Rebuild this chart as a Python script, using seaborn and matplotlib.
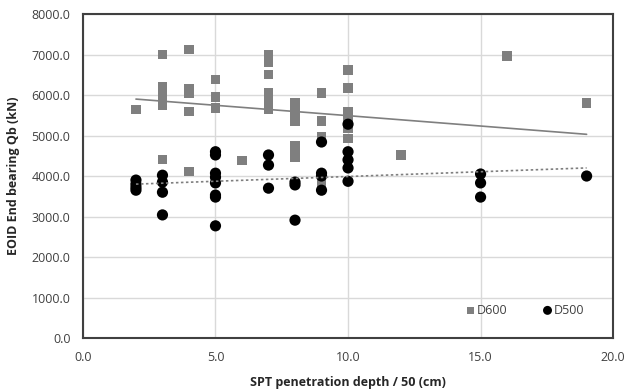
import numpy as np
import pandas as pd
import seaborn as sns
import matplotlib
matplotlib.use("Agg")
import matplotlib.pyplot as plt

# D600 data (grey squares)
d600_x = [2,
          3, 3, 3, 3, 3, 3,
          4, 4, 4, 4, 4,
          5, 5, 5,
          6,
          7, 7, 7, 7, 7, 7, 7, 7,
          8, 8, 8, 8, 8, 8, 8,
          9, 9, 9, 9,
          10, 10, 10, 10, 10, 10,
          12, 16, 19]
d600_y = [5650,
          7000, 6200, 6050, 5900, 5750, 4400,
          7120, 6150, 6050, 5600, 4120,
          6380, 5950, 5680,
          4380,
          7000, 6900, 6800, 6500, 6050, 5900, 5750, 5650,
          5800, 5650, 5500, 5350, 4750, 4600, 4450,
          6050, 5360, 4960, 3850,
          6620, 6170, 5580, 5380, 5180, 4930,
          4520, 6960, 5800]

# D500 data (black circles)
d500_x = [2, 2, 2, 2,
          3, 3, 3, 3,
          5, 5, 5, 5, 5, 5, 5, 5,
          7, 7, 7,
          8, 8, 8,
          9, 9, 9, 9,
          10, 10, 10, 10, 10,
          15, 15, 15,
          19]
d500_y = [3900, 3800, 3720, 3650,
          4020, 3850, 3600, 3040,
          4600, 4520, 4070, 3970, 3830, 3530, 3480, 2770,
          4520, 4270, 3700,
          3850, 3780, 2910,
          4840, 4070, 4000, 3650,
          5280, 4600, 4400, 4200, 3870,
          4050, 3830, 3480,
          4000]

# Linear trendlines (at x = 2 and x = 19)
trend_x = [2, 19]
d600_trend = [5900, 5030]
d500_trend = [3800, 4200]

x_ticks = [0, 5, 10, 15, 20]
y_ticks = [0, 1000, 2000, 3000, 4000, 5000, 6000, 7000, 8000]

sns.set_theme(style="white")
plt.rcParams['font.family'] = ['Open Sans', 'DejaVu Sans']

df600 = pd.DataFrame({"x": d600_x, "y": d600_y})
df500 = pd.DataFrame({"x": d500_x, "y": d500_y})
dft = pd.DataFrame({"x": trend_x, "d600": d600_trend, "d500": d500_trend})

fig = plt.figure(figsize=(6.38, 3.90), dpi=100)
ax = fig.add_axes([0.130, 0.1333, 0.831, 0.8307])

ax.set_axisbelow(True)
ax.grid(True, color="#d9d9d9", linewidth=1.0)

sns.scatterplot(data=df600, x="x", y="y", marker="s", s=45, color="#7f7f7f",
                edgecolor="none", label="D600", ax=ax, zorder=3)
sns.scatterplot(data=df500, x="x", y="y", marker="o", s=65, color="black",
                edgecolor="none", label="D500", ax=ax, zorder=4)

sns.lineplot(data=dft, x="x", y="d600", color="#7f7f7f", linewidth=1.2, ax=ax,
             zorder=5, legend=False)
sns.lineplot(data=dft, x="x", y="d500", color="#7f7f7f", linewidth=1.2, ax=ax,
             linestyle=(0, (1.5, 1.5)), zorder=5, legend=False)

ax.set_xlim(0, 20)
ax.set_ylim(0, 8000)
ax.set_xticks(x_ticks)
ax.set_yticks(y_ticks)
ax.set_xticklabels([f"{v:.1f}" for v in x_ticks])
ax.set_yticklabels([f"{v:.1f}" for v in y_ticks])
ax.tick_params(axis="y", labelsize=9, colors="#404040", length=0, pad=9)
ax.tick_params(axis="x", labelsize=9, colors="#404040", length=0, pad=9)

for sp in ax.spines.values():
    sp.set_color("#404040")
    sp.set_linewidth(1.5)

ax.set_xlabel("SPT penetration depth / 50 (cm)", fontsize=9, fontweight="bold", color="#262626", labelpad=9)
ax.set_ylabel("EOID End bearing Qb (kN)", fontsize=9, fontweight="bold", color="#262626", labelpad=8)

handles, labels = ax.get_legend_handles_labels()
leg = ax.legend(handles[:2], labels[:2], loc="center right", bbox_to_anchor=(0.955, 0.086),
                ncol=2, frameon=False, fontsize=9, handletextpad=0.1, handlelength=0.8,
                columnspacing=2.8, markerscale=0.8, borderaxespad=0)
for t in leg.get_texts():
    t.set_color("#404040")

fig.savefig("out.png", dpi=100)
